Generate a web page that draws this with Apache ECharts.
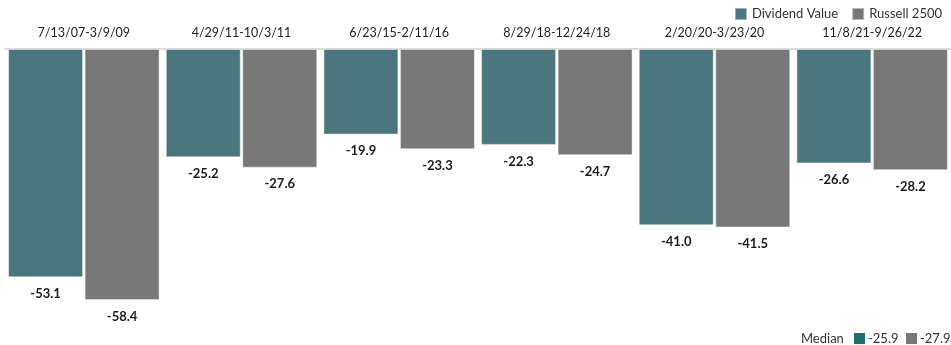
<!DOCTYPE html>
<html>
<head>
<meta charset="utf-8">
<script src="https://cdn.jsdelivr.net/npm/echarts@6/dist/echarts.min.js"></script>
<style>
  html, body { margin: 0; padding: 0; background: #fff; }
  #chart { width: 951px; height: 345px; }
</style>
</head>
<body>
<div id="chart"></div>
<script>
// Drawdown periods and declines (%)
const periods = ['7/13/07-3/9/09', '4/29/11-10/3/11', '6/23/15-2/11/16', '8/29/18-12/24/18', '2/20/20-3/23/20', '11/8/21-9/26/22'];
const dividendValue = [-53.1, -25.2, -19.9, -22.3, -41.0, -26.6];
const russell2500 = [-58.4, -27.6, -23.3, -24.7, -41.5, -28.2];
const seriesNames = ['Dividend Value', 'Russell 2500'];
const medians = [-25.9, -27.9];

const FONT = 'Lato, "Open Sans", sans-serif';
const TEAL = '#4a767c';
const GRAY = '#787878';
const TEAL_KEY = '#1f706c';

const chart = echarts.init(document.getElementById('chart'));

const labelStyle = {
  show: true,
  position: 'outside',
  distance: 10,
  fontFamily: FONT,
  fontSize: 13,
  fontWeight: 'bold',
  color: '#1a1a1a',
  formatter: p => p.value.toFixed(1)
};

chart.setOption({
  animation: false,
  legend: {
    top: 2,
    right: 4,
    itemWidth: 12,
    itemHeight: 12,
    itemGap: 13,
    icon: 'rect',
    textStyle: { fontFamily: FONT, fontSize: 13, color: '#333' },
    data: seriesNames
  },
  grid: { left: 5, right: -5, top: 49, height: 258, containLabel: false },
  xAxis: {
    type: 'category',
    position: 'top',
    data: periods,
    axisLine: { show: true, lineStyle: { color: '#dcdcdc', width: 2 } },
    axisTick: { show: false },
    axisLabel: { margin: 10, fontFamily: FONT, fontSize: 12.5, color: '#222' }
  },
  yAxis: {
    type: 'value',
    min: -60,
    max: 0,
    show: false
  },
  series: [
    {
      name: seriesNames[0],
      type: 'bar',
      data: dividendValue,
      barWidth: 75,
      barGap: '2%',
      itemStyle: { color: TEAL, borderColor: 'rgba(255,255,255,0.45)', borderWidth: 1 },
      label: labelStyle
    },
    {
      name: seriesNames[1],
      type: 'bar',
      data: russell2500,
      barWidth: 75,
      itemStyle: { color: GRAY, borderColor: 'rgba(255,255,255,0.45)', borderWidth: 1 },
      label: labelStyle
    }
  ],
  graphic: [
    { type: 'text', left: 801, top: 332, style: { text: 'Median', fontFamily: FONT, fontSize: 13, fill: '#333' } },
    { type: 'rect', left: 854, top: 333, shape: { width: 11, height: 11 }, style: { fill: TEAL_KEY } },
    { type: 'text', left: 868, top: 332, style: { text: medians[0].toFixed(1), fontFamily: FONT, fontSize: 13, fill: '#333' } },
    { type: 'rect', left: 906, top: 333, shape: { width: 11, height: 11 }, style: { fill: GRAY } },
    { type: 'text', left: 920, top: 332, style: { text: medians[1].toFixed(1), fontFamily: FONT, fontSize: 13, fill: '#333' } }
  ]
});
</script>
</body>
</html>
